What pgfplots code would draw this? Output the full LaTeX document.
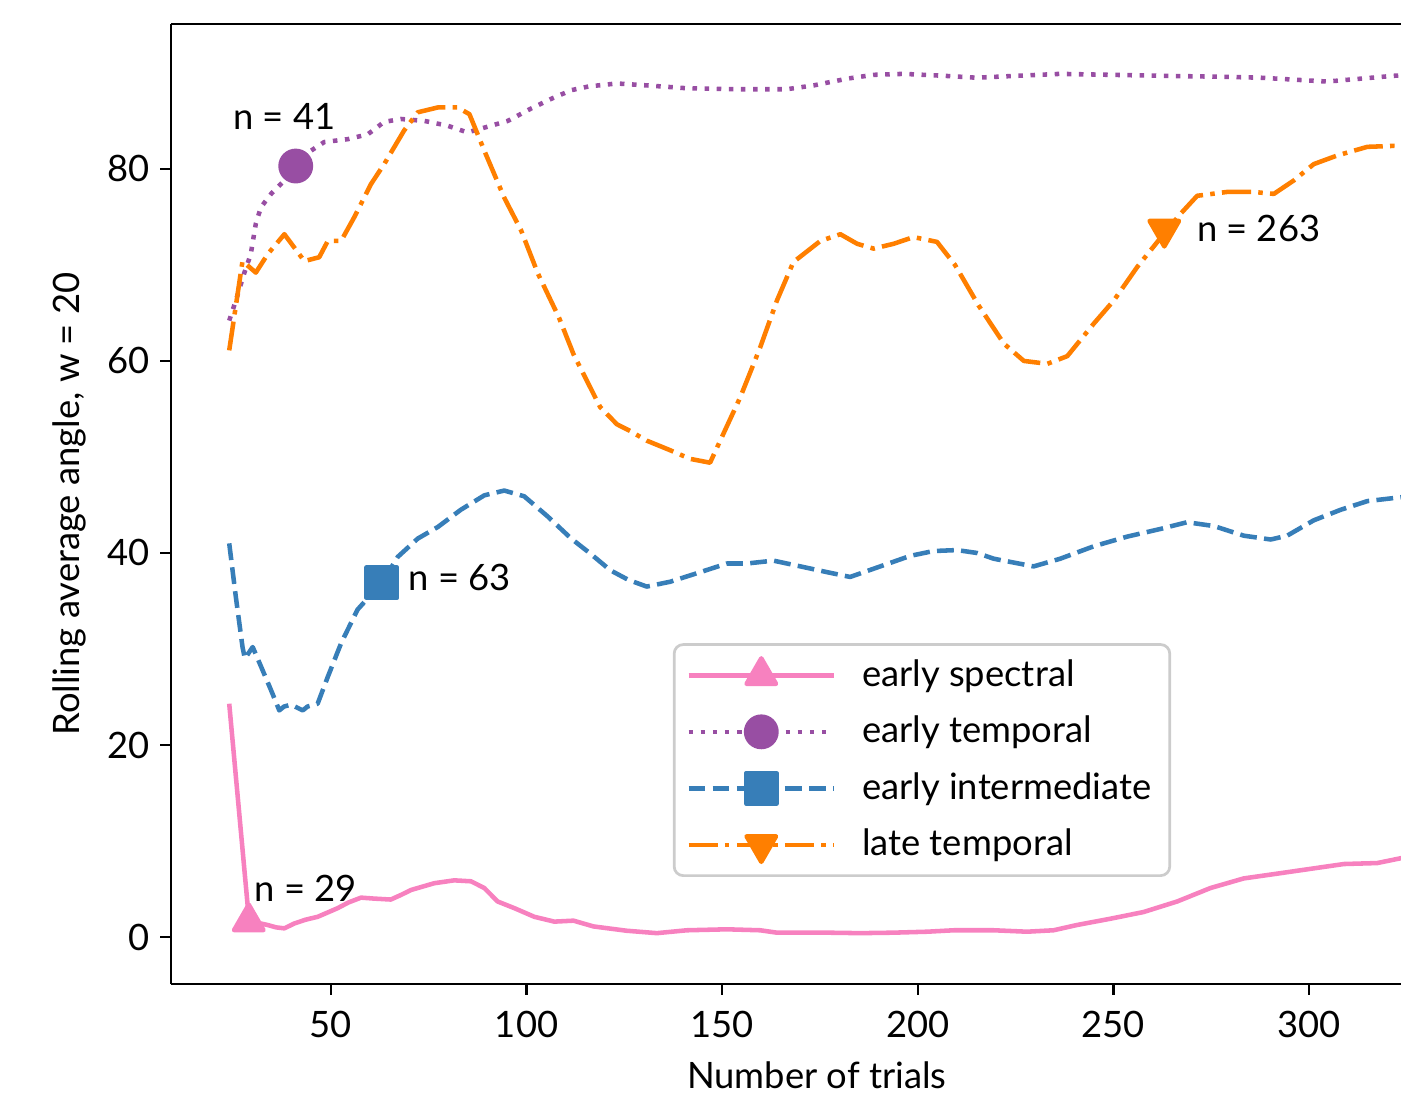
\documentclass[border=0pt]{standalone}
\usepackage{fontspec}
\setmainfont{Lato}
\usepackage{pgfplots}
\pgfplotsset{compat=1.18}
\definecolor{cpink}{HTML}{F781BF}
\definecolor{cpurple}{HTML}{984EA3}
\definecolor{cblue}{HTML}{377EB8}
\definecolor{corange}{HTML}{FF7F00}
\newcommand{\fs}{\fontsize{12}{14.4}\selectfont}
\begin{document}
\begin{tikzpicture}
\begin{axis}[
    width=405.9pt, height=316.8pt, scale only axis,
    xmin=9.1, xmax=323.5, ymin=-4.9, ymax=95.1,
    axis x line*=box, axis y line*=left,
    xtick={50,100,...,300}, ytick={0,20,...,80},
    xtick pos=left, ytick pos=left,
    tick align=outside, major tick length=3.5pt,
    every tick/.style={black, line width=0.8pt},
    axis line style={line width=0.8pt},
    /pgf/number format/assume math mode=true,
    tick label style={font=\fs},
    xticklabel style={yshift=-2pt},
    label style={font=\fs},
    xlabel={Number of trials},
    ylabel={Rolling average angle, w = 20},
    every axis x label/.append style={at={(ticklabel cs:0.525)}, yshift=-1pt},
    legend cell align=left,
    legend image code/.code={\draw[mark repeat=2,mark phase=2,#1] plot coordinates {(0pt,0pt) (24pt,0pt) (48pt,0pt)};},
    legend style={at={(0.408,0.1115)}, anchor=south west, draw=black!20,
      line width=0.9pt, rounded corners=3pt, fill=white,
      inner xsep=4pt, inner ysep=3pt, row sep=4.3pt, column sep=6.5pt,
      font=\fs},
    every axis plot/.append style={line width=1.5pt, line join=round},
]
\coordinate (sw) at (rel axis cs:0,0);
\coordinate (ne) at (rel axis cs:1,1);

% early spectral
\addplot[cpink, solid, forget plot] coordinates {
(24,24.3) (29,2.0) (31,1.5) (33.8,1.25) (36,1.0) (38.1,0.9) (40.6,1.4) (43.5,1.8)
(46.6,2.1) (51.7,3.0) (54.5,3.6) (57.7,4.1) (61,4.0) (65.3,3.9) (68,4.4) (70.5,4.9)
(76.4,5.6) (81.5,5.9) (85.8,5.8) (89.2,5.1) (92.6,3.7) (96.9,3.0) (102,2.1) (107.1,1.6)
(112,1.7) (117.1,1.1) (125.6,0.65) (133.3,0.4) (141,0.7) (151.2,0.8) (159.7,0.7) (164,0.45)
(176.8,0.45) (185.3,0.4) (193.8,0.45) (202.4,0.55) (209.2,0.7) (219.4,0.7) (227.9,0.55)
(234.7,0.7) (240.7,1.25) (249.2,1.9) (257.7,2.6) (266.3,3.7) (274.8,5.1) (283.3,6.1)
(291.9,6.6) (300.4,7.1) (308.9,7.6) (317.4,7.7) (323.4,8.2) (326,8.3)};

% early temporal
\addplot[cpurple, dash pattern=on 1.5pt off 2.5pt, forget plot] coordinates {
(24,64.2) (25.7,66.3) (27.8,69.1) (29.5,71.1) (30.8,74.3) (32.1,76.0) (34.7,77.4)
(38.1,78.8) (41,80.3) (44.9,81.9) (48.3,82.8) (54.3,83.1) (59.4,83.6) (63.6,84.9)
(67.9,85.2) (73.9,85.0) (79.8,84.5) (84.9,83.8) (89.2,84.3) (95.2,85.0) (101.2,86.3)
(106.3,87.3) (111.4,88.2) (116,88.6) (123.1,88.9) (130.7,88.7) (141,88.4) (152.9,88.3)
(166.5,88.3) (173.4,88.7) (181.9,89.4) (188.7,89.8) (196.4,89.9) (206.6,89.7) (215,89.5)
(225.4,89.7) (236.4,89.9) (249.2,89.8) (262,89.7) (277.3,89.6) (287.6,89.5) (296.1,89.3)
(304.6,89.1) (313.2,89.4) (321.7,89.7) (326,89.8)};

% early intermediate
\addplot[cblue, dash pattern=on 5.55pt off 2.4pt, forget plot] coordinates {
(24,41.0) (25.7,35.4) (27.4,30.2) (28,29.0) (30,30.2) (32.1,28.2) (34.7,25.7) (36.8,23.6)
(38,24.0) (39.8,24.2) (42.8,23.6) (44,24.0) (46.6,24.3) (49.2,27.1) (52.6,30.6) (56.8,34.1)
(63,36.9) (67.1,39.6) (72.2,41.5) (77.3,42.7) (83.2,44.5) (89.2,46.0) (94.3,46.5) (99.4,45.9)
(105.4,43.8) (111.4,41.5) (116.1,40.0) (121.4,38.2) (126,37.2) (130.7,36.5) (136.7,37.0)
(144.4,38.0) (151.2,38.9) (156.3,38.9) (163.1,39.2) (170,38.6) (176.8,38.0) (182.7,37.5)
(190.4,38.6) (198.1,39.7) (204,40.2) (210,40.3) (215.1,40.0) (219.4,39.4) (229.6,38.6)
(236.4,39.4) (245,40.7) (253.5,41.7) (262,42.5) (268.8,43.2) (275.7,42.8) (283.3,41.8)
(290.2,41.4) (294.4,41.8) (301.2,43.4) (308.1,44.5) (314.9,45.4) (323.4,45.8) (326,45.8)};

% late temporal
\addplot[corange, dash pattern=on 9.6pt off 2.4pt on 1.5pt off 2.4pt, forget plot] coordinates {
(24,61.1) (27.4,70.4) (30.8,69.2) (33.8,71.1) (38.1,73.2) (43.2,70.4) (47,70.8) (49.2,72.5)
(52.6,72.5) (56,75.0) (60.2,78.4) (63.6,80.5) (68.7,84.0) (72.2,85.9) (77.3,86.4) (82.4,86.4)
(85.4,85.7) (89.2,81.9) (94.3,77.0) (98.6,73.6) (102.9,69.1) (108.3,64.5) (112,60.7)
(118.8,55.2) (123.1,53.4) (126.5,52.7) (130.7,51.7) (136.7,50.7) (141.8,49.8) (146.9,49.4)
(149.5,51.7) (154.6,56.2) (159.7,61.4) (164,66.3) (168.2,70.3) (175.1,72.5) (180.2,73.2)
(184.5,72.2) (188.7,71.7) (193.8,72.2) (198.9,72.9) (204.9,72.4) (209.5,70.0) (215.5,65.8)
(222,61.8) (227.1,60.0) (233.1,59.7) (238.2,60.5) (245,63.9) (250.1,66.3) (256.1,69.8)
(263,73.3) (267.1,75.3) (271.4,77.2) (279,77.6) (285.8,77.6) (291,77.4) (296.1,78.8)
(301.2,80.5) (307.2,81.4) (314.9,82.3) (321.7,82.4) (326,82.3)};

% markers
\addplot[only marks, mark=triangle*, mark size=5.6pt, color=cpink, forget plot] coordinates {(29,1.6)};
\addplot[only marks, mark=*, mark size=5pt, color=cpurple, forget plot] coordinates {(41,80.3)};
\addplot[only marks, mark=square*, mark size=5pt, color=cblue, forget plot] coordinates {(63,36.9)};
\addplot[only marks, mark=triangle*, mark size=5.6pt, mark options={rotate=180}, color=corange, forget plot] coordinates {(263,73.7)};

\addlegendimage{cpink, solid, line width=1.5pt, mark=triangle*, mark size=5.6pt, mark options={solid}}
\addlegendentry{early spectral}
\addlegendimage{cpurple, line width=1.5pt, dash pattern=on 1.5pt off 2.5pt, mark=*, mark size=5pt, mark options={solid}}
\addlegendentry{early temporal}
\addlegendimage{cblue, line width=1.5pt, dash pattern=on 5.55pt off 2.4pt, mark=square*, mark size=5pt, mark options={solid}}
\addlegendentry{early intermediate}
\addlegendimage{corange, line width=1.5pt, dash pattern=on 9.6pt off 2.4pt on 1.5pt off 2.4pt, mark=triangle*, mark size=5.6pt, mark options={solid, rotate=180}}
\addlegendentry{late temporal}

\node[anchor=west, inner sep=0pt, font=\fs] at (axis cs:24.9,85.5) {n = 41};
\node[anchor=west, inner sep=0pt, font=\fs] at (axis cs:69.7,37.4) {n = 63};
\node[anchor=west, inner sep=0pt, font=\fs] at (axis cs:271.2,73.75) {n = 263};
\node[anchor=west, inner sep=0pt, font=\fs] at (axis cs:30.3,5.1) {n = 29};
\end{axis}
\pgfresetboundingbox
\path ([shift={(-56.4pt,-38.6pt)}]sw) rectangle ([shift={(0pt,7.9pt)}]ne);
\end{tikzpicture}
\end{document}
